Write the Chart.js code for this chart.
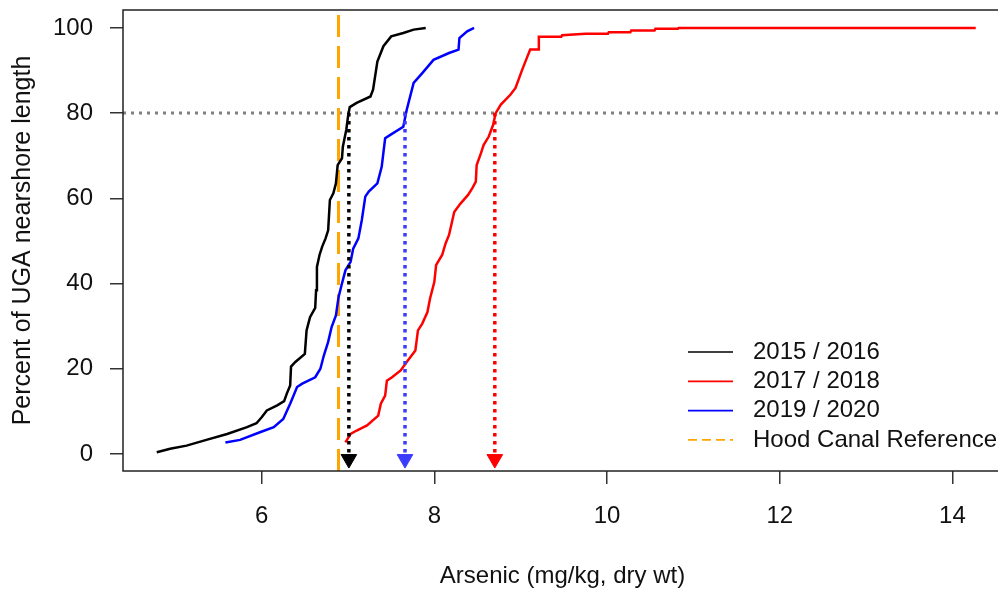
<!DOCTYPE html>
<html>
<head>
<meta charset="utf-8">
<script src="https://cdn.jsdelivr.net/npm/chart.js@4"></script>
<style>
  html, body { margin: 0; padding: 0; background: #fff; overflow: hidden; }
  #wrap { width: 1012px; height: 592px; }
</style>
</head>
<body>
<div id="wrap"><canvas id="chart" width="1012" height="592"></canvas></div>
<script>
// Arsenic (mg/kg dry wt) against cumulative percent of UGA nearshore length
const as1516 = [4.785, 4.94, 5.13, 5.36, 5.60, 5.83, 5.94, 6.00, 6.06, 6.18, 6.26, 6.29, 6.33, 6.34, 6.39, 6.50, 6.52, 6.56, 6.62, 6.63, 6.64, 6.67, 6.70, 6.74, 6.77, 6.79, 6.83, 6.86, 6.88, 6.93, 6.94, 6.98, 7.00, 7.02, 7.10, 7.26, 7.29, 7.34, 7.41, 7.50, 7.64, 7.76, 7.90];
const pct1516 = [0.4, 1.2, 1.95, 3.3, 4.7, 6.3, 7.2, 8.6, 10.2, 11.4, 12.4, 14.1, 16.1, 20.5, 21.6, 23.5, 29.0, 32.1, 34.3, 38.4, 43.9, 46.7, 48.6, 50.6, 52.5, 59.6, 61.2, 63.5, 67.8, 69.4, 72.1, 76.1, 79.2, 81.4, 82.4, 83.9, 85.5, 92.1, 95.7, 98.0, 98.8, 99.6, 100];

const as1718 = [6.97, 7.03, 7.10, 7.22, 7.35, 7.38, 7.43, 7.45, 7.51, 7.61, 7.68, 7.78, 7.81, 7.86, 7.92, 7.95, 8.00, 8.02, 8.09, 8.13, 8.17, 8.23, 8.30, 8.39, 8.44, 8.48, 8.49, 8.54, 8.57, 8.63, 8.68, 8.71, 8.77, 8.88, 8.94, 9.01, 9.07, 9.11, 9.21, 9.21, 9.47, 9.48, 9.75, 10.01, 10.02, 10.27, 10.28, 10.55, 10.56, 10.82, 10.83, 14.27];
const pct1718 = [2.7, 4.7, 5.5, 6.7, 9.0, 11.8, 13.7, 17.2, 18.0, 19.6, 21.6, 24.3, 29.0, 30.6, 33.3, 36.5, 40.4, 44.3, 46.7, 49.4, 51.4, 56.8, 58.7, 60.8, 62.4, 63.9, 67.8, 70.6, 72.5, 74.5, 77.2, 80.0, 82.0, 84.3, 85.9, 89.8, 92.9, 94.9, 94.9, 97.9, 97.9, 98.3, 98.6, 98.6, 99.0, 99.0, 99.4, 99.4, 99.8, 99.8, 100, 100];

const as1920 = [5.58, 5.75, 5.98, 6.14, 6.25, 6.33, 6.41, 6.47, 6.62, 6.68, 6.72, 6.77, 6.81, 6.86, 6.89, 6.93, 6.97, 7.03, 7.06, 7.12, 7.16, 7.20, 7.24, 7.34, 7.39, 7.43, 7.49, 7.64, 7.68, 7.76, 7.86, 7.99, 8.17, 8.28, 8.29, 8.38, 8.46];
const pct1920 = [2.7, 3.3, 5.1, 6.3, 8.2, 11.8, 15.7, 16.5, 18.0, 20.0, 23.1, 26.3, 29.8, 32.5, 36.8, 40.0, 43.1, 45.1, 48.2, 50.6, 54.9, 60.4, 61.6, 63.5, 67.4, 74.1, 74.9, 76.8, 80.8, 87.1, 89.4, 92.5, 94.1, 94.9, 97.6, 99.2, 100];

const hoodCanalRef = 6.89;
const cutoffPct = 80;
const arrowAs = [7.01, 7.66, 8.70];
const arrowColors = ['#000000', '#3c3cff', '#ff0000'];

const xTicks = [6, 8, 10, 12, 14];
const yTicks = [0, 20, 40, 60, 80, 100];
const seriesLabels = ['2015 / 2016', '2017 / 2018', '2019 / 2020', 'Hood Canal Reference'];
const seriesColors = ['#000000', '#ff0000', '#0000ff', '#ffa500'];

const xMin = 4.394, xMax = 14.574, yMin = -4, yMax = 104.2;
const FONT = '"Liberation Sans", Arial, sans-serif';
const TEXT = '#111111';

const pts = (xs, ys) => xs.map((x, i) => ({ x: x, y: ys[i] }));

const curve = (xs, ys, color) => ({
  data: pts(xs, ys),
  showLine: true,
  borderColor: color,
  borderWidth: 2.5,
  pointRadius: 0,
  tension: 0,
  fill: false,
  order: 1
});

const datasets = [
  curve(as1516, pct1516, seriesColors[0]),
  curve(as1718, pct1718, seriesColors[1]),
  curve(as1920, pct1920, seriesColors[2]),
  {
    data: [{ x: xMin, y: cutoffPct }, { x: xMax, y: cutoffPct }],
    showLine: true, borderColor: '#808080', borderWidth: 3, borderDash: [3, 5],
    pointRadius: 0, order: 3
  },
  {
    data: [{ x: hoodCanalRef, y: yMin }, { x: hoodCanalRef, y: yMax }],
    showLine: true, borderColor: seriesColors[3], borderWidth: 3, borderDash: [22, 9],
    pointRadius: 0, order: 2
  }
];

// dotted drop lines from the 80% crossing, with arrow heads
arrowAs.forEach((a, i) => {
  datasets.push({
    data: [{ x: a, y: cutoffPct }, { x: a, y: 0 }],
    showLine: true, borderColor: arrowColors[i], borderWidth: 3.5, borderDash: [3.5, 4.5],
    pointRadius: 0, order: 0
  });
  datasets.push({
    data: [{ x: a, y: -1.2 }],
    showLine: false, pointStyle: 'triangle', rotation: 180, pointRadius: 9,
    pointBackgroundColor: arrowColors[i], pointBorderColor: arrowColors[i], pointBorderWidth: 1,
    order: 0
  });
});

const frameAndLegend = {
  id: 'frameAndLegend',
  afterDraw(chart) {
    const { ctx, chartArea: a } = chart;
    ctx.save();
    ctx.strokeStyle = '#222';
    ctx.lineWidth = 1.5;
    ctx.setLineDash([]);
    ctx.strokeRect(a.left, a.top, a.right - a.left, a.bottom - a.top);

    // legend, no box, lower right inside the plot
    ctx.font = '24px ' + FONT;
    ctx.textBaseline = 'middle';
    ctx.textAlign = 'left';
    seriesLabels.forEach((lab, i) => {
      const y = 352 + i * 29.3;
      ctx.beginPath();
      ctx.strokeStyle = seriesColors[i];
      ctx.lineWidth = 1.7;
      ctx.setLineDash(i === 3 ? [9, 5] : []);
      ctx.moveTo(688, y);
      ctx.lineTo(733, y);
      ctx.stroke();
      ctx.fillStyle = TEXT;
      ctx.fillText(lab, 753, y);
    });
    ctx.restore();
  }
};

// no label overflow padding, so the plot box sits where R put it
const noPad = s => { s.paddingLeft = 0; s.paddingRight = 0; s.paddingTop = 0; s.paddingBottom = 0; };

new Chart(document.getElementById('chart'), {
  type: 'scatter',
  data: { datasets: datasets },
  options: {
    responsive: false,
    animation: false,
    layout: { padding: { top: 10, right: 2, left: 0, bottom: 0 } },
    plugins: { legend: { display: false }, tooltip: { enabled: false } },
    scales: {
      x: {
        type: 'linear', min: xMin, max: xMax,
        afterBuildTicks: s => { s.ticks = xTicks.map(v => ({ value: v })); },
        afterFit: s => { s.height = 121; noPad(s); },
        ticks: { font: { size: 24, family: FONT }, color: TEXT, padding: 18, maxRotation: 0, autoSkip: false },
        grid: { drawOnChartArea: false, drawTicks: true, tickLength: 13, color: '#333', lineWidth: 1.5 },
        border: { display: false },
        title: { display: true, text: 'Arsenic (mg/kg, dry wt)', font: { size: 24, family: FONT }, color: TEXT, padding: { top: 0, bottom: 1 } }
      },
      y: {
        type: 'linear', min: yMin, max: yMax,
        afterBuildTicks: s => { s.ticks = yTicks.map(v => ({ value: v })); },
        afterFit: s => { s.width = 123; noPad(s); },
        ticks: { font: { size: 24, family: FONT }, color: TEXT, padding: 17, autoSkip: false },
        grid: { drawOnChartArea: false, drawTicks: true, tickLength: 13, color: '#333', lineWidth: 1.5 },
        border: { display: false },
        title: { display: true, text: 'Percent of UGA nearshore length', font: { size: 25, family: FONT }, color: TEXT, padding: { top: 8, bottom: 0 } }
      }
    }
  },
  plugins: [frameAndLegend]
});
</script>
</body>
</html>
